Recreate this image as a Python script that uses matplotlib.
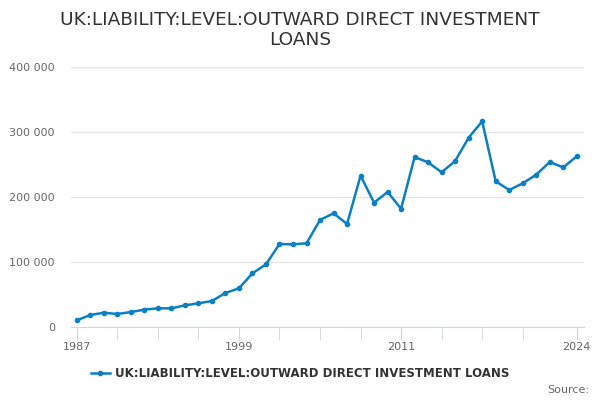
import matplotlib
matplotlib.use("Agg")
import matplotlib.pyplot as plt
from matplotlib.ticker import FuncFormatter, FixedLocator

years = list(range(1987, 2025))
values = [10300, 18500, 22000, 20000, 23000, 26700, 28700, 28700, 33300, 36400,
          40000, 52300, 59500, 82600, 96400, 127700, 127200, 128700, 164600, 174900,
          158500, 232800, 191300, 207700, 182000, 261500, 253300, 238000, 255400, 291300,
          316400, 224100, 210800, 221000, 234400, 253800, 245600, 262600]
label_years = [1987, 1999, 2011, 2024]
tick_years = list(range(1987, 2021, 3)) + [2024]
y_ticks = [0, 100000, 200000, 300000, 400000]
title = "UK:LIABILITY:LEVEL:OUTWARD DIRECT INVESTMENT\nLOANS"
series_name = "UK:LIABILITY:LEVEL:OUTWARD DIRECT INVESTMENT LOANS"

color = "#0a7fc4"
fig = plt.figure(figsize=(6, 4), dpi=100)
ax = fig.add_axes([0.118, 0.1825, 0.855, 0.65])
ax.plot(years, values, color=color, lw=1.8, marker="o", ms=3, label=series_name)
ax.set_xlim(1986.556, 2024.52)
ax.set_ylim(0, 400000)
ax.set_yticks(y_ticks)
ax.yaxis.set_major_formatter(FuncFormatter(lambda v, p: f"{int(v):,}".replace(",", " ")))
ax.xaxis.set_major_locator(FixedLocator(label_years))
ax.xaxis.set_minor_locator(FixedLocator([y for y in tick_years if y not in label_years]))
ax.grid(axis="y", color="#e6e6e6", lw=1)
ax.set_axisbelow(True)
for s in ["top", "right", "left"]:
    ax.spines[s].set_visible(False)
ax.spines["bottom"].set_color("#ccd6eb")
ax.tick_params(axis="y", length=0, labelsize=8, labelcolor="#666666", pad=11.5)
ax.tick_params(axis="x", which="both", length=9, color="#ccd6eb", labelsize=8, labelcolor="#666666", pad=2)
fig.text(0.5, 0.925, title, ha="center", va="center", fontsize=13.3, color="#333333", linespacing=1.2)
leg = fig.legend(loc="center", bbox_to_anchor=(0.5, 0.067), frameon=False,
                 prop={"size": 8.5, "weight": "bold"}, handlelength=1.6, handletextpad=0.4)
for t in leg.get_texts():
    t.set_color("#333333")
fig.text(0.982, 0.025, "Source:", ha="right", va="center", fontsize=8, color="#666666")
fig.savefig("out.png", dpi=100)
